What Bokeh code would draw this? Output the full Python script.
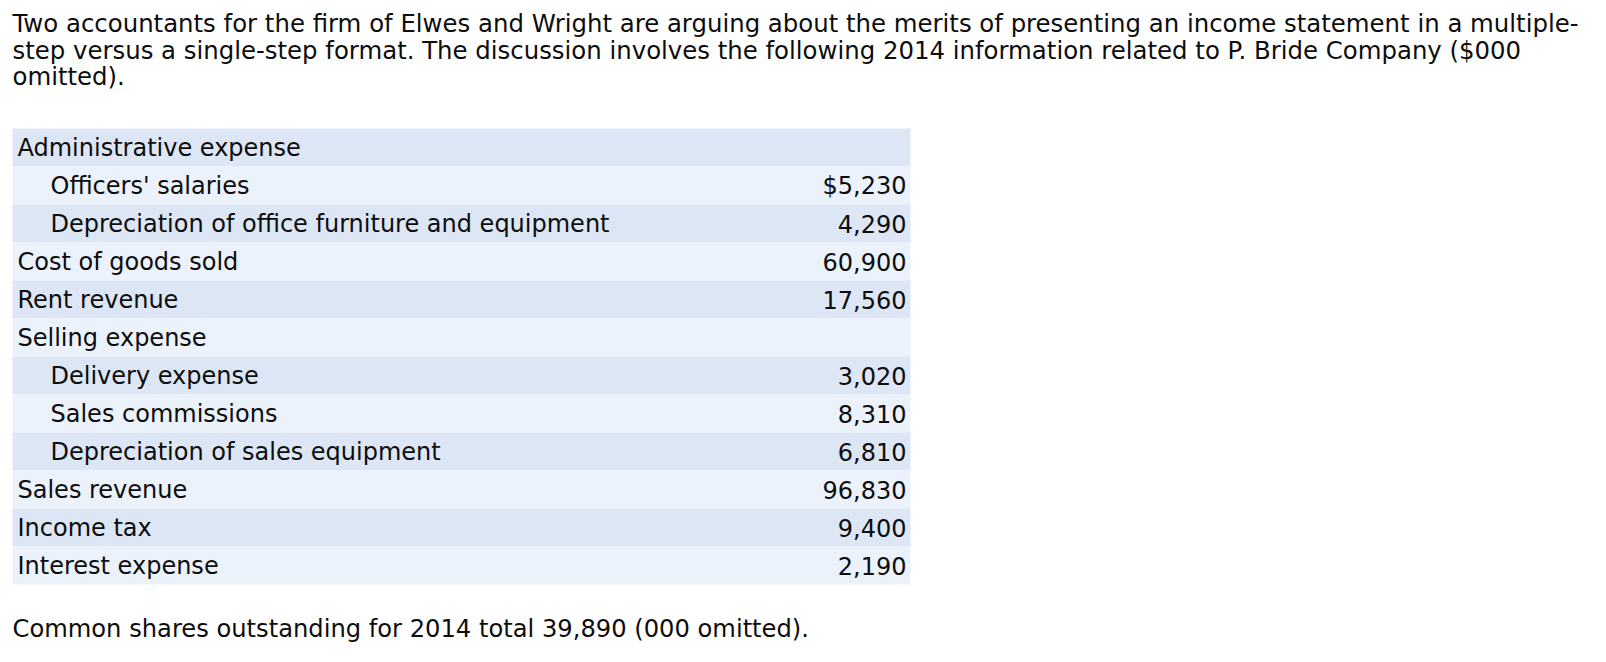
from bokeh.plotting import figure
from bokeh.models import Range1d, ColumnDataSource
from bokeh.core.properties import value
from bokeh.embed import file_html
from bokeh.resources import INLINE

intro_lines = [
    "Two accountants for the firm of Elwes and Wright are arguing about the merits of presenting an income statement in a multiple-",
    "step versus a single-step format. The discussion involves the following 2014 information related to P. Bride Company ($000",
    "omitted).",
]
labels = [
    "Administrative expense",
    "Officers' salaries",
    "Depreciation of office furniture and equipment",
    "Cost of goods sold",
    "Rent revenue",
    "Selling expense",
    "Delivery expense",
    "Sales commissions",
    "Depreciation of sales equipment",
    "Sales revenue",
    "Income tax",
    "Interest expense",
]
indent_level = [0, 1, 1, 0, 0, 0, 1, 1, 1, 0, 0, 0]
amounts = [None, 5230, 4290, 60900, 17560, None, 3020, 8310, 6810, 96830, 9400, 2190]
footnote = "Common shares outstanding for 2014 total 39,890 (000 omitted)."

# layout (pixel coordinates of the page)
W, H = 1590, 646
FONT = value("DejaVu Sans")
FS_TITLE, FS_TABLE, FS_NOTE = "24.4px", "24px", "24.2px"
TXT = "#0d0d0d"
row_colors = ["#dce6f5", "#ebf2fc"]
tbl_left, tbl_right = 12, 910
tbl_top, row_h = 128, 38
pad_left, indent_w, pad_right = 5, 33, 4

p = figure(width=W, height=H, output_backend="svg", toolbar_location=None,
           x_range=Range1d(0, W), y_range=Range1d(H, 0),
           min_border=0, outline_line_color=None)
p.axis.visible = False
p.xgrid.visible = False
p.ygrid.visible = False
p.background_fill_color = "white"
p.border_fill_color = "white"

n = len(labels)
tops = [tbl_top + i * row_h for i in range(n)]
bottoms = [t + row_h for t in tops]
mids = [t + row_h / 2 for t in tops]
fills = [row_colors[i % 2] for i in range(n)]
p.quad(left=[tbl_left] * n, right=[tbl_right] * n, top=tops, bottom=bottoms,
       fill_color=fills, line_color=None)

lab_src = ColumnDataSource(dict(
    x=[tbl_left + pad_left + indent_w * k for k in indent_level],
    y=mids, text=labels))
p.text(x="x", y="y", text="text", source=lab_src, text_font=FONT,
       text_font_size=FS_TABLE, text_color=TXT, text_baseline="middle", text_align="left")

amt_text = []
for i, a in enumerate(amounts):
    if a is None:
        amt_text.append("")
    elif i == 1:
        amt_text.append("${:,}".format(a))
    else:
        amt_text.append("{:,}".format(a))
amt_src = ColumnDataSource(dict(x=[tbl_right - pad_right] * n, y=mids, text=amt_text))
p.text(x="x", y="y", text="text", source=amt_src, text_font=FONT,
       text_font_size=FS_TABLE, text_color=TXT, text_baseline="middle", text_align="right")

intro_y = [23 + 26.7 * i for i in range(len(intro_lines))]
p.text(x=[12] * len(intro_lines), y=intro_y, text=intro_lines, text_font=FONT,
       text_font_size=FS_TITLE, text_color=TXT, text_baseline="middle", text_align="left")

p.text(x=[12], y=[628], text=[footnote], text_font=FONT,
       text_font_size=FS_NOTE, text_color=TXT, text_baseline="middle", text_align="left")

open("out.html", "w").write(file_html(p, INLINE))
